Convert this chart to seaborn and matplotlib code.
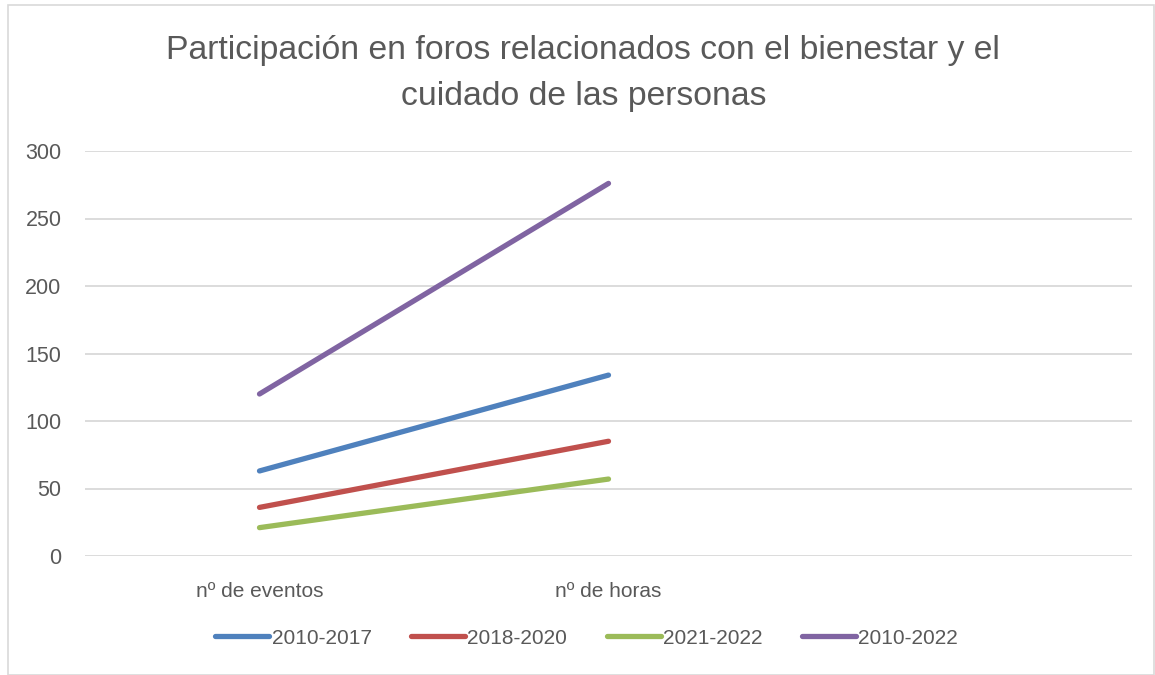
import matplotlib
matplotlib.use("Agg")
import matplotlib.pyplot as plt
import pandas as pd
import seaborn as sns
from matplotlib.patches import Rectangle

# data
categories = ["nº de eventos", "nº de horas"]
series_names = ["2010-2017", "2018-2020", "2021-2022", "2010-2022"]
v_2010_2017 = [63, 134]
v_2018_2020 = [36, 85]
v_2021_2022 = [21, 57]
v_2010_2022 = [120, 276]
y_ticks = [0, 50, 100, 150, 200, 250, 300]

colors = ["#4F81BD", "#C0504D", "#9BBB59", "#8064A2"]
text_color = "#595959"
grid_color = "#D9D9D9"

rows = []
for name, vals in zip(series_names, [v_2010_2017, v_2018_2020, v_2021_2022, v_2010_2022]):
    for cat, v in zip(categories, vals):
        rows.append({"categoria": cat, "valor": v, "serie": name})
df = pd.DataFrame(rows)

sns.set_theme(style="white")
plt.rcParams["font.family"] = ["Liberation Sans", "DejaVu Sans"]

fig = plt.figure(figsize=(11.55, 6.75), dpi=100)
ax = fig.add_axes([85 / 1155, 1 - 556 / 675, (1132 - 85) / 1155, (556 - 151) / 675])

sns.lineplot(data=df, x="categoria", y="valor", hue="serie", hue_order=series_names,
             palette=colors, linewidth=3.8, sort=False, ax=ax,
             solid_capstyle="round", legend=True)

ax.set_xlim(-0.5, 2.5)
ax.set_ylim(0, 300)
ax.set_yticks(y_ticks)
ax.set_xticks([0, 1])
ax.set_xticklabels(categories)
ax.set_xlabel("")
ax.set_ylabel("")
ax.yaxis.grid(True, color=grid_color, linewidth=1.3)
ax.set_axisbelow(True)
for s in ax.spines.values():
    s.set_visible(False)
ax.tick_params(axis="y", colors=text_color, labelsize=15.5, length=0, pad=17)
ax.tick_params(axis="x", colors=text_color, labelsize=15, length=0, pad=19)

fig.text(0.505, 0.948, "Participación en foros relacionados con el bienestar y el\ncuidado de las personas",
         ha="center", va="top", fontsize=24.3, color=text_color, linespacing=1.62)

handles, labels = ax.get_legend_handles_labels()
for h in handles:
    h.set_solid_capstyle("round")
ax.legend(handles, labels, loc="center", bbox_to_anchor=(0.508, 1 - 638 / 675), bbox_transform=fig.transFigure,
          ncol=4, frameon=False, fontsize=15, labelcolor=text_color, handlelength=2.6,
          handletextpad=0.1, columnspacing=1.9)

fig.patches.append(Rectangle((8 / 1155, 0.0), 1 - 8 / 1155 - 0.001, 1 - 5 / 675, transform=fig.transFigure,
                             fill=False, edgecolor=grid_color, linewidth=1.2))

fig.savefig("out.png", dpi=100, facecolor="white")
